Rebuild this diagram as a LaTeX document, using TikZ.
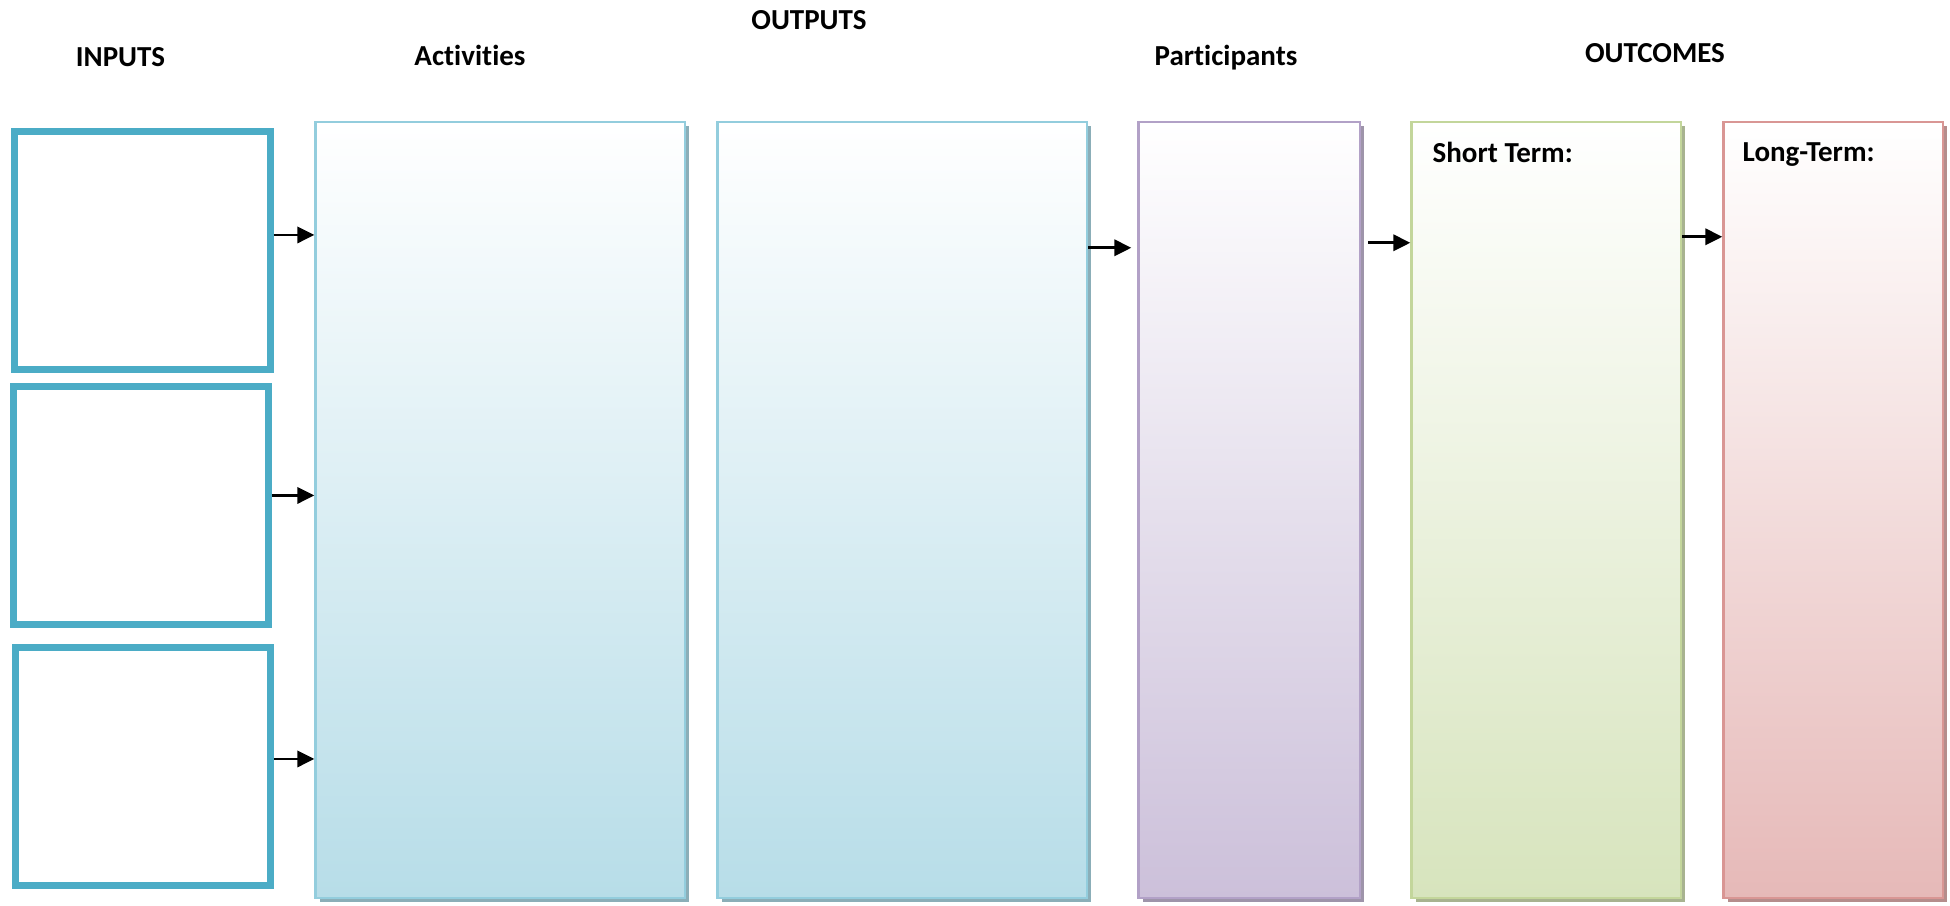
\documentclass[tikz,border=0pt]{standalone}
\usepackage{fontspec}
\setmainfont{Carlito}[Ligatures=NoCommon]
\usetikzlibrary{arrows.meta,shadows}

\definecolor{inblue}{HTML}{4BACC6}
\definecolor{actline}{HTML}{93CDDD}
\definecolor{actfill}{HTML}{B7DDE8}
\definecolor{partline}{HTML}{B2A1C7}
\definecolor{partfill}{HTML}{CCC0DA}
\definecolor{shortline}{HTML}{C3D69B}
\definecolor{shortfill}{HTML}{D7E4BD}
\definecolor{longline}{HTML}{D99694}
\definecolor{longfill}{HTML}{E6B9B8}

\begin{document}
\begin{tikzpicture}[
        font=\fontsize{8.25}{10}\selectfont\bfseries,
        inbox/.style={draw=inblue, line width=1.85pt, fill=white, inner sep=0pt,
            anchor=south west, minimum height=2.38cm},
        colbox/.style 2 args={draw=#1, line width=0.7pt, inner sep=0pt,
            anchor=south west, minimum height=7.76cm,
            top color=white, bottom color=#2,
            drop shadow={shadow xshift=0.04cm, shadow yshift=-0.04cm,
                fill=#1!60!gray, opacity=1}},
        head/.style={anchor=base, inner sep=0pt},
        flow/.style={-{Triangle[length=4.8pt, width=4.6pt]}, line width=0.8pt, black}
    ]
        \useasboundingbox (0,0) rectangle (19.5,9.05);

        % inputs
        \node[inbox, minimum width=2.56cm] (in1) at (0.113,5.323) {};
        \node[inbox, minimum width=2.55cm] (in2) at (0.103,2.773) {};
        \node[inbox, minimum width=2.55cm] (in3) at (0.123,0.163) {};

        % columns
        \node[colbox={actline}{actfill}, minimum width=3.694cm] (act) at (3.143,0.06) {};
        \node[colbox={actline}{actfill}, minimum width=3.694cm] (out) at (7.163,0.06) {};
        \node[colbox={partline}{partfill}, minimum width=2.214cm] (part) at (11.373,0.06) {};
        \node[colbox={shortline}{shortfill}, minimum width=2.694cm] (short) at (14.103,0.06) {};
        \node[colbox={longline}{longfill}, minimum width=2.194cm] (long) at (17.223,0.06) {};

        % headings
        \node[head] (hin) at (1.205,8.39) {INPUTS};
        \node[head] (hact) at (4.70,8.40) {Activities};
        \node[head] (hout) at (8.09,8.76) {OUTPUTS};
        \node[head] (hpart) at (12.26,8.40) {Participants};
        \node[head] (hoc) at (16.55,8.43) {OUTCOMES};
        \node[head, anchor=base west] (hshort) at (14.32,7.43) {Short Term:};
        \node[head, anchor=base west] (hlong) at (17.42,7.44) {Long-Term:};

        % arrows
        \draw[flow] ([yshift=1.55mm]in1.east) -- ([yshift=1.55mm]in1.east -| act.west);
        \draw[flow] ([yshift=1mm]in2.east) -- ([yshift=1mm]in2.east -| act.west);
        \draw[flow] ([yshift=0.75mm]in3.east) -- ([yshift=0.75mm]in3.east -| act.west);
        \draw[flow, shorten >=0.06cm] ([yshift=2.62cm]out.east) -- ([yshift=2.62cm]out.east -| part.west);
        \draw[flow, shorten <=0.07cm] ([yshift=2.67cm]part.east) -- ([yshift=2.67cm]part.east -| short.west);
        \draw[flow] ([yshift=2.73cm]short.east) -- ([yshift=2.73cm]short.east -| long.west);
    \end{tikzpicture}
\end{document}
